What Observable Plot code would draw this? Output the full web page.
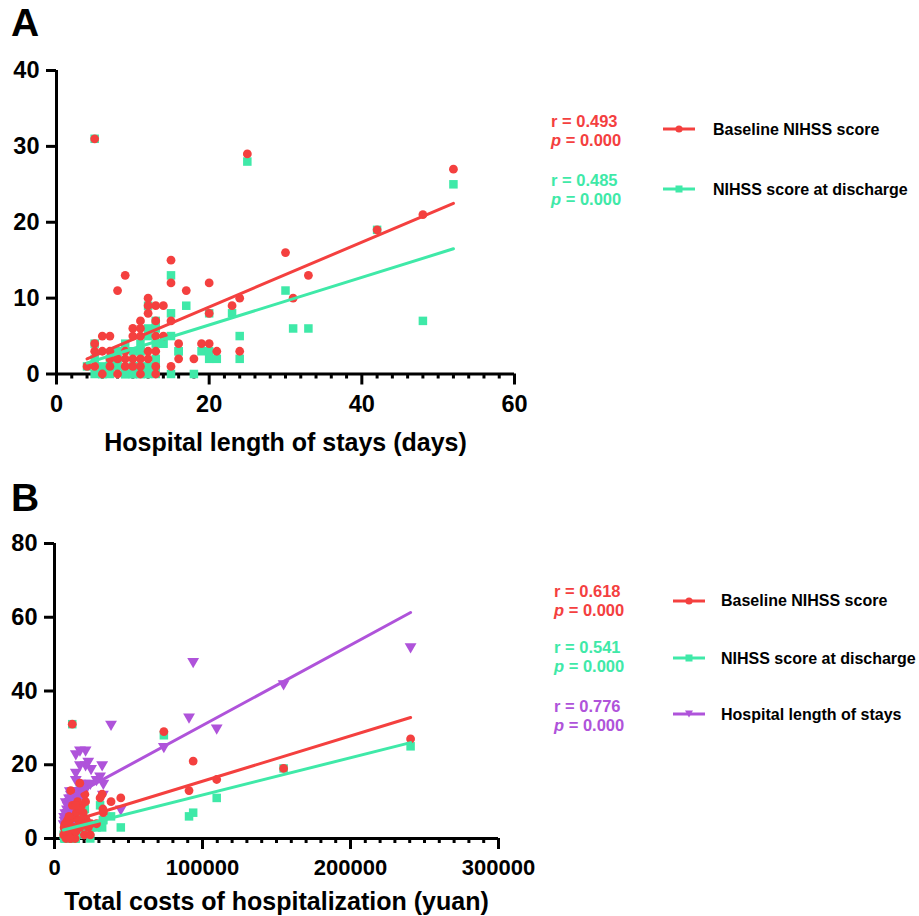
<!DOCTYPE html>
<html><head><meta charset="utf-8">
<script src="https://cdn.jsdelivr.net/npm/d3@7"></script>
<script src="https://cdn.jsdelivr.net/npm/@observablehq/plot@0.6"></script>
<style>
body{margin:0;background:#fff;}
#wrap{position:relative;width:919px;height:916px;overflow:hidden;font-family:"Liberation Sans",Arial,Helvetica,sans-serif;font-weight:bold;}
.abs{position:absolute;white-space:nowrap;}
.panel{font-size:39px;line-height:39px;color:#000}
.stat{font-size:16.5px;line-height:19px}
.lab{font-size:16px;line-height:19px;color:#000}
svg{overflow:visible}
</style></head><body><div id="wrap"></div>
<script>
// ---- data (one entry per patient) ----
const days      = [4, 5,5,5,5, 6,6,6, 7,7,7,7, 8,8,8, 9,9,9,9, 10,10,10,10, 11,11,11,11,11,11, 12,12,12,12,12, 13,13,13,13,13,13, 14,14, 15,15,15,15, 16,16, 17, 18, 19, 20,20,20, 21, 23, 24,24, 25, 30, 31, 33, 42, 48, 52];
const baseline  = [1, 31,4,3,1, 5,3,0, 5,3,2,1, 11,2,0, 13,3,2,1, 6,5,2,1, 7,6,5,2,1,0, 10,9,8,3,2, 9,7,5,3,1,0, 9,5, 15,12,7,1, 4,2, 11, 2, 4, 12,8,4, 3, 9, 10,3, 29, 16, 10, 13, 19, 21, 27];
const discharge = [1, 31,4,2,0, 1,0,0, 2,1,0,1, 3,2,1, 4,0,0,0, 3,1,0,0, 4,3,3,1,0,0, 9,6,5,1,0, 7,6,4,2,1,0, 4,4, 13,8,5,0, 3,3, 9, 0, 3, 3,8,2, 2, 8, 5,2, 28, 11, 6, 6, 19, 7, 25];
const cost      = [6200, 12000,7100,6800,8200, 9400,6500,7800, 8800,10500,7300,9000, 44800,8400,11200, 11000,9600,12800,8900, 13500,10200,7600,11800, 14800,9800,16200,12400,10700,13900, 15600,18300,32700,11000,14100, 12100,19400,16800,13200,20200,10400, 17600,21500, 17100,20500,33000,24200, 28400,14400, 30800, 14400, 24700, 32200,17200,21000, 22800, 14400, 21000,17200, 73900, 109600, 38200, 90900, 154800, 93700, 240600];

// fitted regression lines (end points)
const fitAx = [4, 52];
const fitAbase = [2.0, 22.5];
const fitAdisc = [1.45, 16.5];
const fitBx = [6000, 240600];
const fitBbase = [4.0, 32.8];
const fitBdisc = [2.3, 26.0];
const fitBdays = [10.2, 61.3];

// ticks
const xTicksA = [0, 20, 40, 60];
const xMinorA = [2,4,6,8,10,12,14,16,18,22,24,26,28,30,32,34,36,38,42,44,46,48,50,52,54,56,58];
const yTicksA = [0, 10, 20, 30, 40];
const xTicksB = [0, 100000, 200000, 300000];
const xMinorB = [10000,20000,30000,40000,50000,60000,70000,80000,90000,110000,120000,130000,140000,150000,160000,170000,180000,190000,210000,220000,230000,240000,250000,260000,270000,280000,290000];
const yTicksB = [0, 20, 40, 60, 80];

// text
const titleA = "Hospital length of stays (days)";
const titleB = "Total costs of hospitalization (yuan)";
const seriesA = ["Baseline NIHSS score", "NIHSS score at discharge"];
const rA = ["0.493", "0.485"];
const pA = ["0.000", "0.000"];
const seriesB = ["Baseline NIHSS score", "NIHSS score at discharge", "Hospital length of stays"];
const rB = ["0.618", "0.541", "0.776"];
const pB = ["0.000", "0.000", "0.000"];

const RED = "#F4403F", GREEN = "#3FE9A8", PURPLE = "#AF53DA";
const FONT = '"Liberation Sans", Arial, Helvetica, sans-serif';

const rows = days.map((d, i) => ({days: d, baseline: baseline[i], discharge: discharge[i], cost: cost[i]}));
const fitA = fitAx.map((x, i) => ({x, base: fitAbase[i], disc: fitAdisc[i]}));
const fitB = fitBx.map((x, i) => ({x, base: fitBbase[i], disc: fitBdisc[i], days: fitBdays[i]}));

const wrap = document.getElementById("wrap");

function axesMarks(xTicks, xMinor, yTicks, xFont, yFont) {
  return [
    Plot.axisX({ticks: xMinor, tickSize: 5, strokeWidth: 3, text: null, tickFormat: () => "", label: null}),
    Plot.axisX({ticks: xTicks, tickSize: 11, strokeWidth: 3, text: null, tickFormat: () => "", label: null}),
    Plot.axisY({ticks: yTicks, tickSize: 10, strokeWidth: 3, text: null, tickFormat: () => "", label: null}),
    Plot.text(xTicks, {x: d => d, text: d => String(d), frameAnchor: "bottom", lineAnchor: "top", dy: 21, fontSize: xFont, fill: "#000"}),
    Plot.text(yTicks, {y: d => d, text: d => String(d), frameAnchor: "left", textAnchor: "end", lineAnchor: "middle", dx: -17, fontSize: yFont, fill: "#000"}),
    Plot.ruleY([0], {strokeWidth: 3}),
    Plot.ruleX([0], {strokeWidth: 3})
  ];
}

const plotA = Plot.plot({
  width: 540, height: 460,
  marginLeft: 56, marginRight: 26, marginTop: 70, marginBottom: 86.5,
  style: {fontFamily: FONT, fontWeight: "bold", background: "transparent", color: "#000"},
  x: {domain: [0, 60]},
  y: {domain: [0, 40]},
  marks: [
    ...axesMarks(xTicksA, xMinorA, yTicksA, 23.5, 23.5),
    Plot.dot(rows, {x: "days", y: "discharge", symbol: "square", r: 4.8, fill: GREEN}),
    Plot.dot(rows, {x: "days", y: "baseline", symbol: "circle", r: 4.4, fill: RED}),
    Plot.line(fitA, {x: "x", y: "disc", stroke: GREEN, strokeWidth: 3}),
    Plot.line(fitA, {x: "x", y: "base", stroke: RED, strokeWidth: 3}),
    Plot.text([titleA], {text: d => d, frameAnchor: "bottom", lineAnchor: "bottom", dy: 77, fontSize: 25, fill: "#000"})
  ]
});
plotA.style.position = "absolute"; plotA.style.left = "0px"; plotA.style.top = "0px";
wrap.appendChild(plotA);

const plotB = Plot.plot({
  width: 540, height: 456,
  marginLeft: 54, marginRight: 42, marginTop: 83, marginBottom: 78,
  style: {fontFamily: FONT, fontWeight: "bold", background: "transparent", color: "#000"},
  x: {domain: [0, 300000]},
  y: {domain: [0, 80]},
  marks: [
    ...axesMarks(xTicksB, xMinorB, yTicksB, 22, 23.5),
    Plot.dot(rows, {x: "cost", y: "discharge", symbol: "square", r: 4.8, fill: GREEN}),
    Plot.dot(rows, {x: "cost", y: "days", symbol: "triangle", rotate: 180, r: 4.4, fill: PURPLE}),
    Plot.dot(rows, {x: "cost", y: "baseline", symbol: "circle", r: 4.4, fill: RED}),
    Plot.line(fitB, {x: "x", y: "disc", stroke: GREEN, strokeWidth: 3}),
    Plot.line(fitB, {x: "x", y: "base", stroke: RED, strokeWidth: 3}),
    Plot.line(fitB, {x: "x", y: "days", stroke: PURPLE, strokeWidth: 3}),
    Plot.text([titleB], {text: d => d, frameAnchor: "bottom", lineAnchor: "bottom", dy: 71, fontSize: 25, fill: "#000"})
  ]
});
plotB.style.position = "absolute"; plotB.style.left = "0px"; plotB.style.top = "460px";
wrap.appendChild(plotB);

function addDiv(cls, left, top, html, color) {
  const d = document.createElement("div");
  d.className = "abs " + cls;
  d.style.left = left + "px"; d.style.top = top + "px";
  if (color) d.style.color = color;
  d.innerHTML = html;
  wrap.appendChild(d);
  return d;
}
// panel letters
addDiv("panel", 11, 3, "A");
addDiv("panel", 11, 478, "B");

function symbolSvg(kind, color) {
  let m = "";
  if (kind === "circle") m = `<circle cx="16" cy="7" r="3.6" fill="${color}"/>`;
  else if (kind === "square") m = `<rect x="12.5" y="3.5" width="7" height="7" fill="${color}"/>`;
  else m = `<path d="M12 3.5 L20 3.5 L16 10.5 Z" fill="${color}"/>`;
  return `<svg width="32" height="14" style="display:block"><line x1="0" y1="7" x2="32" y2="7" stroke="${color}" stroke-width="3"/>${m}</svg>`;
}

const colorsA = [RED, GREEN], symsA = ["circle", "square"];
const statTopA = [112, 171], lineYA = [129.3, 189.3];
seriesA.forEach((s, i) => {
  addDiv("stat", 551, statTopA[i], `r = ${rA[i]}<br><i>p</i> = ${pA[i]}`, colorsA[i]);
  addDiv("", 663, lineYA[i] - 7, symbolSvg(symsA[i], colorsA[i]));
  addDiv("lab", 713, lineYA[i] - 9.5, s);
});

const colorsB = [RED, GREEN, PURPLE], symsB = ["circle", "square", "triangle"];
const statTopB = [582, 638, 697], lineYB = [600.7, 658.3, 714];
seriesB.forEach((s, i) => {
  addDiv("stat", 554, statTopB[i], `r = ${rB[i]}<br><i>p</i> = ${pB[i]}`, colorsB[i]);
  addDiv("", 673, lineYB[i] - 7, symbolSvg(symsB[i], colorsB[i]));
  addDiv("lab", 721, lineYB[i] - 9.5, s);
});
</script></body></html>
